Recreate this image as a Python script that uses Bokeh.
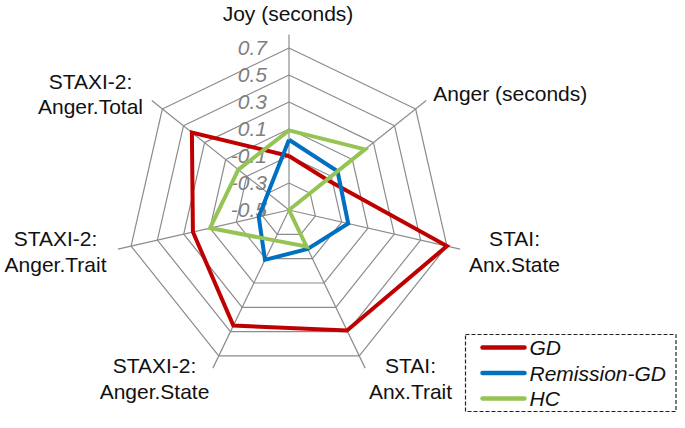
import numpy as np
from bokeh.plotting import figure
from bokeh.models import Range1d
from bokeh.core.properties import value
from bokeh.embed import file_html
from bokeh.resources import INLINE

# ---- data ----
categories = ["Joy (seconds)", "Anger (seconds)", "STAI:\nAnx.State", "STAI:\nAnx.Trait",
              "STAXI-2:\nAnger.State", "STAXI-2:\nAnger.Trait", "STAXI-2:\nAnger.Total"]
series_names = ["GD", "Remission-GD", "HC"]
gd = [-0.10, -0.14, 0.70, 0.49, 0.45, 0.23, 0.42]
remission_gd = [0.02, -0.04, -0.05, -0.18, -0.09, -0.27, -0.30]
hc = [0.09, 0.22, -0.50, -0.20, -0.25, 0.10, -0.02]
ticks = [-0.5, -0.3, -0.1, 0.1, 0.3, 0.5, 0.7]
tick_labels = ["-0.5", "-0.3", "-0.1", "0.1", "0.3", "0.5", "0.7"]

# ---- layout ----
W, H = 677, 412
cx, cy = 288.5, 209.5          # centre of radar in picture pixels
R = 162.0                      # radius of outer ring
vmin, vmax = ticks[0], ticks[-1]
FONT = value("Liberation Sans")
FS = "21px"
colors = ["#C00000", "#0070C0", "#96C454"]
grid_color = "#8C8C8C"

p = figure(width=W, height=H, output_backend="svg", toolbar_location=None,
           x_range=Range1d(-cx, W - cx), y_range=Range1d(cy - H, cy),
           min_border=0, background_fill_color="white", border_fill_color="white")
p.axis.visible = False
p.grid.visible = False
p.outline_line_color = None

n = len(categories)
ang = np.arange(n) * 2 * np.pi / n
dx, dy = np.sin(ang), np.cos(ang)

def rad(v):
    return (np.asarray(v, dtype=float) - vmin) / (vmax - vmin) * R

# rings
for t in ticks[1:]:
    r = rad(t)
    xs = list(r * dx) + [r * dx[0]]
    ys = list(r * dy) + [r * dy[0]]
    p.line(xs, ys, line_color=grid_color, line_width=1.2)

# spokes
r_end = rad(vmax + 0.1)
p.segment(x0=[0] * n, y0=[0] * n, x1=list(r_end * dx), y1=list(r_end * dy),
          line_color=grid_color, line_width=1.2)

# tick labels
p.text(x=[-22] * len(ticks), y=[float(rad(t)) for t in ticks], text=tick_labels,
       text_align="right", text_baseline="middle", text_font=FONT,
       text_font_style="italic", text_font_size=FS, text_color="#7F7F7F")

# series
for vals, col in zip([gd, remission_gd, hc], colors):
    r = rad(vals)
    xs = list(r * dx) + [r[0] * dx[0]]
    ys = list(r * dy) + [r[0] * dy[0]]
    p.line(xs, ys, line_color=col, line_width=4, line_join="miter")

# category labels (anchor offsets relative to centre)
lab_x = [-1, 144.2, 225.5, 121.5, -134.5, -233.5, -198.5]
lab_y = [196.5, 116.2, -41.5, -168.3, -168.5, -41.5, 116.2]
lab_align = ["center", "left", "center", "center", "center", "center", "center"]
for i in range(n):
    p.text(x=[lab_x[i]], y=[lab_y[i]], text=[categories[i]], text_align=lab_align[i],
           text_baseline="middle", text_font=FONT, text_font_size=FS,
           text_color="#111111", text_line_height=1.11)

# legend (manual)
bx0, bx1, by0, by1 = 465 - cx, 675.5 - cx, cy - 411, cy - 334
p.quad(left=[bx0], right=[bx1], bottom=[by0], top=[by1], fill_color=None,
       line_color="#222222", line_width=1.2, line_dash="4 2")
ly = [cy - 347, cy - 372.5, cy - 398]
p.segment(x0=[482 - cx] * 3, x1=[524 - cx] * 3, y0=ly, y1=ly, line_color=colors,
          line_width=4.5, line_cap="round")
p.text(x=[529 - cx] * 3, y=ly, text=series_names, text_align="left",
       text_baseline="middle", text_font=FONT, text_font_style="italic",
       text_font_size=FS, text_color="#111111")

open("out.html", "w").write(file_html(p, INLINE))
